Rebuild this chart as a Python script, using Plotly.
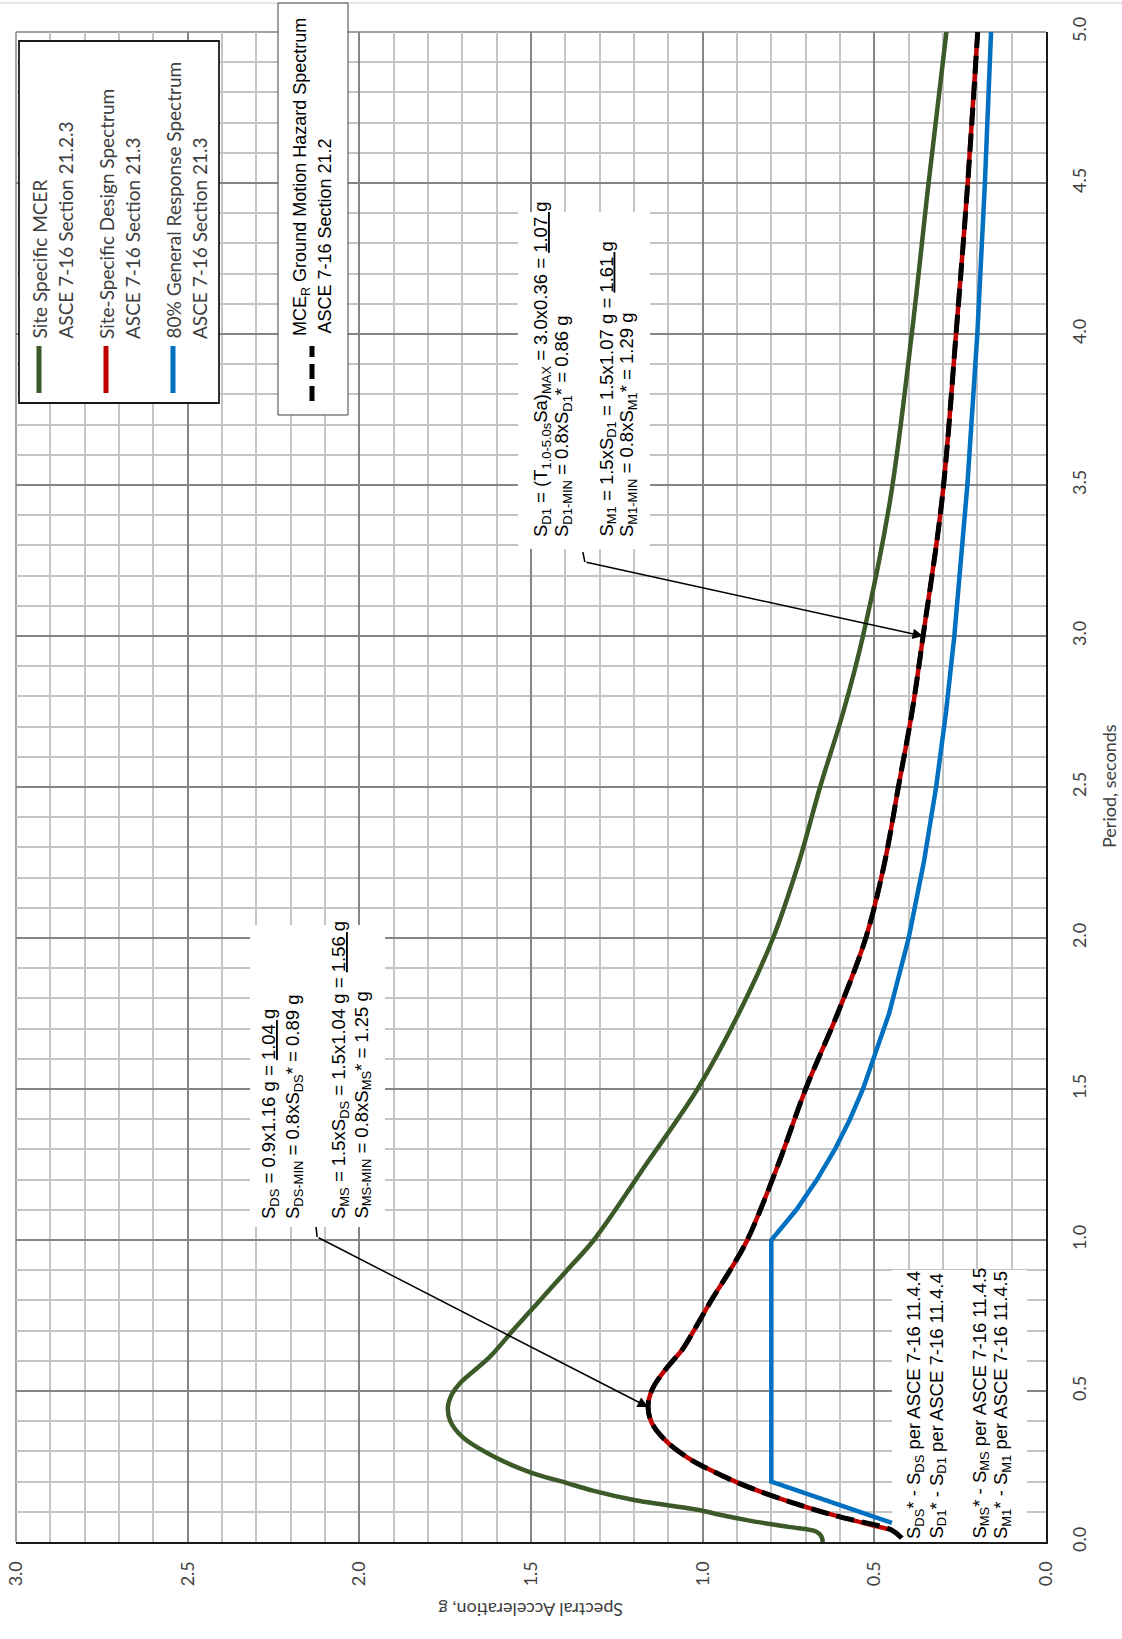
import plotly.graph_objects as go

# ---------------- data (period in s, spectral acceleration in g) ----------------
T_mcer = [0.0, 0.02, 0.035, 0.05, 0.07, 0.09, 0.106, 0.139, 0.17, 0.195,
          0.23, 0.278, 0.348, 0.40, 0.447, 0.49, 0.526, 0.613, 0.70,
          0.80, 0.90, 1.0, 1.25, 1.5, 1.75, 2.0, 2.25, 2.5, 2.75,
          3.0, 3.45, 4.0, 4.5, 5.0]
SA_mcer = [0.65, 0.655, 0.67, 0.75, 0.86, 0.95, 1.01, 1.20, 1.32, 1.395,
           1.50, 1.60, 1.70, 1.735, 1.742, 1.73, 1.707, 1.62, 1.553,
           1.474, 1.395, 1.317, 1.165, 1.015, 0.895, 0.795, 0.72, 0.658, 0.59,
           0.533, 0.454, 0.391, 0.342, 0.29]

T_design = [0.04, 0.083, 0.116, 0.162, 0.195, 0.248, 0.28, 0.338, 0.394, 0.447,
            0.503, 0.56, 0.60, 0.636, 0.735, 0.80, 0.90, 1.0, 1.25, 1.5, 1.75,
            2.0, 2.25, 2.5, 2.75, 3.0, 3.45, 4.0, 4.5, 5.0]
SA_design = [0.45, 0.60, 0.70, 0.82, 0.895, 0.995, 1.045, 1.11, 1.148, 1.159,
             1.148, 1.116, 1.087, 1.060, 1.008, 0.975, 0.92, 0.87, 0.78, 0.70, 0.607,
             0.525, 0.47, 0.43, 0.39, 0.358, 0.303, 0.262, 0.228, 0.199]

T_hazard = [0.013, 0.04, 0.083, 0.116, 0.162, 0.195, 0.248, 0.28, 0.338, 0.394, 0.447,
            0.503, 0.56, 0.60, 0.636, 0.735, 0.80, 0.90, 1.0, 1.25, 1.5, 1.75,
            2.0, 2.25, 2.5, 2.75, 3.0, 3.45, 4.0, 4.5, 5.0]
SA_hazard = [0.42, 0.45, 0.60, 0.70, 0.82, 0.895, 0.995, 1.045, 1.11, 1.148, 1.159,
             1.148, 1.116, 1.087, 1.060, 1.008, 0.975, 0.92, 0.87, 0.78, 0.70, 0.607,
             0.525, 0.47, 0.43, 0.39, 0.358, 0.303, 0.262, 0.228, 0.199]

T_general = [0.063, 0.2, 1.0, 1.1, 1.2, 1.3, 1.4, 1.5, 1.75, 2.0, 2.25, 2.5,
             2.75, 3.0, 3.5, 4.0, 4.5, 5.0]
SA_general = [0.449, 0.80, 0.80, 0.727, 0.667, 0.615, 0.571, 0.533, 0.457, 0.40,
              0.356, 0.32, 0.291, 0.267, 0.229, 0.20, 0.178, 0.16]

SA_ticks = [0.0, 0.5, 1.0, 1.5, 2.0, 2.5, 3.0]
T_ticks = [0.0, 0.5, 1.0, 1.5, 2.0, 2.5, 3.0, 3.5, 4.0, 4.5, 5.0]

legend_names = [("Site Specific MCER", "ASCE 7-16 Section 21.2.3"),
                ("Site-Specific Design Spectrum", "ASCE 7-16 Section 21.3"),
                ("80% General Response Spectrum", "ASCE 7-16 Section 21.3")]
hazard_name = ("MCE<sub>R</sub> Ground Motion Hazard Spectrum", "ASCE 7-16 Section 21.2")

U = "<span style='text-decoration:underline'>{}</span>"
sds_lines = ["S<sub>DS</sub> = 0.9x1.16 g = " + U.format("1.04 g"),
             "S<sub>DS-MIN</sub> = 0.8xS<sub>DS</sub>* = 0.89 g",
             "S<sub>MS</sub> = 1.5xS<sub>DS</sub> = 1.5x1.04 g = " + U.format("1.56 g"),
             "S<sub>MS-MIN</sub> = 0.8xS<sub>MS</sub>* = 1.25 g"]
sd1_lines = ["S<sub>D1</sub> = (T<sub>1.0-5.0s</sub>Sa)<sub>MAX</sub> = 3.0x0.36 = " + U.format("1.07 g"),
             "S<sub>D1-MIN</sub> = 0.8xS<sub>D1</sub>* = 0.86 g",
             "S<sub>M1</sub> = 1.5xS<sub>D1</sub> = 1.5x1.07 g = " + U.format("1.61 g"),
             "S<sub>M1-MIN</sub> = 0.8xS<sub>M1</sub>* = 1.29 g"]
note_lines = ["S<sub>DS</sub>* - S<sub>DS</sub> per ASCE 7-16 11.4.4",
              "S<sub>D1</sub>* - S<sub>D1</sub> per ASCE 7-16 11.4.4",
              "S<sub>MS</sub>* - S<sub>MS</sub> per ASCE 7-16 11.4.5",
              "S<sub>M1</sub>* - S<sub>M1</sub> per ASCE 7-16 11.4.5"]

GREEN = "#3b5a27"
RED = "#c00000"
BLUE = "#0070c0"

# ---------------- layout geometry (pixels) ----------------
W, H = 1122, 1639
L, R, TOP, BOT = 16, 1046, 32, 1542
SA_MAX, T_MAX = 3.0, 5.0


def X(px):
    return (px - L) / (R - L)


def Y(py):
    return (BOT - py) / (BOT - TOP)


def SA(px):  # pixel -> data (acceleration axis, reversed)
    return SA_MAX * (R - px) / (R - L)


def TT(py):  # pixel -> data (period axis)
    return T_MAX * (BOT - py) / (BOT - TOP)


fig = go.Figure()
SPL = dict(shape="spline", smoothing=1.0)
fig.add_trace(go.Scatter(x=SA_mcer, y=T_mcer, mode="lines", name="mcer",
                         line=dict(color=GREEN, width=4.5, **SPL)))
fig.add_trace(go.Scatter(x=SA_general, y=T_general, mode="lines", name="general",
                         line=dict(color=BLUE, width=4.5)))
fig.add_trace(go.Scatter(x=SA_design, y=T_design, mode="lines", name="design",
                         line=dict(color=RED, width=4.5, **SPL)))
fig.add_trace(go.Scatter(x=SA_hazard, y=T_hazard, mode="lines", name="hazard",
                         line=dict(color="black", width=5, dash="18px,8px", **SPL)))

TICKFONT = dict(family="Lato", size=18, color="#404040")
axis_common = dict(dtick=0.5, tick0=0, tickformat=".1f", tickangle=-90,
                   showgrid=True, gridcolor="#858585", gridwidth=1.5,
                   minor=dict(dtick=0.1, tick0=0, showgrid=True,
                              gridcolor="#c4c4c4", gridwidth=1.5),
                   zeroline=False, ticks="", tickfont=TICKFONT, automargin=False,
                   showline=True, linecolor="#1a1a1a", linewidth=2)

fig.update_layout(
    width=W, height=H,
    margin=dict(l=L, r=W - R, t=TOP, b=H - BOT, pad=0, autoexpand=False),
    plot_bgcolor="white", paper_bgcolor="white",
    showlegend=False,
    xaxis=dict(range=[SA_MAX, 0.0], tickvals=SA_ticks, ticklabelstandoff=10, **axis_common),
    yaxis=dict(range=[0.0, T_MAX], side="right", tickvals=T_ticks, ticklabelstandoff=16,
               **axis_common),
)

shapes = []
annotations = []

# frame lines (top/left borders + outer frame line)
shapes.append(dict(type="line", xref="paper", yref="paper", x0=X(L), x1=X(R), y0=Y(TOP), y1=Y(TOP),
                   line=dict(color="#858585", width=1.5), layer="below"))
shapes.append(dict(type="line", xref="paper", yref="paper", x0=X(L), x1=X(L), y0=Y(TOP), y1=Y(BOT),
                   line=dict(color="#858585", width=1.5), layer="below"))
shapes.append(dict(type="line", xref="paper", yref="paper", x0=X(0), x1=X(W), y0=Y(3), y1=Y(3),
                   line=dict(color="#cfcfcf", width=1.2), layer="below"))


def note_box(x0, y0, x1, y1):
    # white box over the grid, below the data lines
    shapes.append(dict(type="rect", xref="x", yref="y",
                       x0=SA(x0), x1=SA(x1), y0=TT(y1), y1=TT(y0),
                       fillcolor="white", line=dict(width=0), layer="between"))


def legend_box(x0, y0, x1, y1, border, bw):
    shapes.append(dict(type="rect", xref="paper", yref="paper",
                       x0=X(x0), x1=X(x1), y0=Y(y1), y1=Y(y0),
                       fillcolor="white", line=dict(color=border, width=bw), layer="above"))


def rtext(cx, bottom, text, family="Liberation Sans, Arial", size=18.5, color="black"):
    annotations.append(dict(xref="paper", yref="paper", x=X(cx), y=Y(bottom),
                            xanchor="center", yanchor="bottom", textangle=-90,
                            showarrow=False, text=text, align="left",
                            font=dict(family=family, size=size, color=color)))


# white note boxes
note_box(250, 925, 385, 1227)
note_box(518, 212, 650, 549)
note_box(892, 1270, 1027, 1542)

# legend 1
legend_box(19, 41, 219, 403, "#1a1a1a", 1.8)
for (n1, n2), cx, col in zip(legend_names, [39, 106, 173], [GREEN, RED, BLUE]):
    shapes.append(dict(type="line", xref="paper", yref="paper", x0=X(cx), x1=X(cx),
                       y0=Y(393), y1=Y(346), line=dict(color=col, width=5), layer="above"))
    rtext(cx, 341, n1, family="Lato", size=19, color="#404040")
    rtext(cx + 26, 341, n2, family="Lato", size=19, color="#404040")

# legend 2
legend_box(278, 3, 348, 415, "#404040", 1)
shapes.append(dict(type="line", xref="paper", yref="paper", x0=X(312), x1=X(312),
                   y0=Y(401), y1=Y(346), line=dict(color="black", width=5, dash="15px,7px"),
                   layer="above"))
rtext(302, 338, hazard_name[0], size=18)
rtext(324, 336, hazard_name[1], size=18)

# note texts
for cx, t in zip([270, 294, 340, 362], sds_lines):
    rtext(cx, 1221, t)
for cx, t in zip([542, 563, 607, 628], sd1_lines):
    rtext(cx, 539, t)
for cx, t in zip([915, 937, 980, 1002], note_lines):
    rtext(cx, 1541, t)

# arrows (tips on the design spectrum; tails at the note boxes)
arrow_tip_sa = [1.159, 0.358]
arrow_tip_t = [0.447, 3.0]
arrow_tail_sa = [2.123, 1.343]
arrow_tail_t = [1.01, 3.245]
leader_sa = [2.126, 1.349]
leader_t = [1.043, 3.278]
for i in range(2):
    annotations.append(dict(x=arrow_tip_sa[i], y=arrow_tip_t[i], xref="x", yref="y",
                            ax=arrow_tail_sa[i], ay=arrow_tail_t[i], axref="x", ayref="y",
                            showarrow=True, arrowhead=2, arrowsize=1.4, arrowwidth=1.5,
                            arrowcolor="black", text="", standoff=0))
    shapes.append(dict(type="line", xref="x", yref="y", x0=leader_sa[i], y0=leader_t[i],
                       x1=arrow_tail_sa[i], y1=arrow_tail_t[i],
                       line=dict(color="black", width=1.5), layer="above"))

# axis titles
annotations.append(dict(xref="paper", yref="paper", x=X(1109), y=Y(786), xanchor="center",
                        yanchor="middle", textangle=-90, showarrow=False, text="Period, seconds",
                        font=dict(family="Lato", size=18, color="#404040")))
annotations.append(dict(xref="paper", yref="paper", x=X(531), y=Y(1610), xanchor="center",
                        yanchor="middle", textangle=180, showarrow=False,
                        text="Spectral Acceleration, g",
                        font=dict(family="Lato", size=18, color="#404040")))

fig.update_layout(shapes=shapes, annotations=annotations)
fig.write_html("out.html", config={"displayModeBar": False},
               post_script="document.body.style.margin='0';document.body.style.padding='0';")
